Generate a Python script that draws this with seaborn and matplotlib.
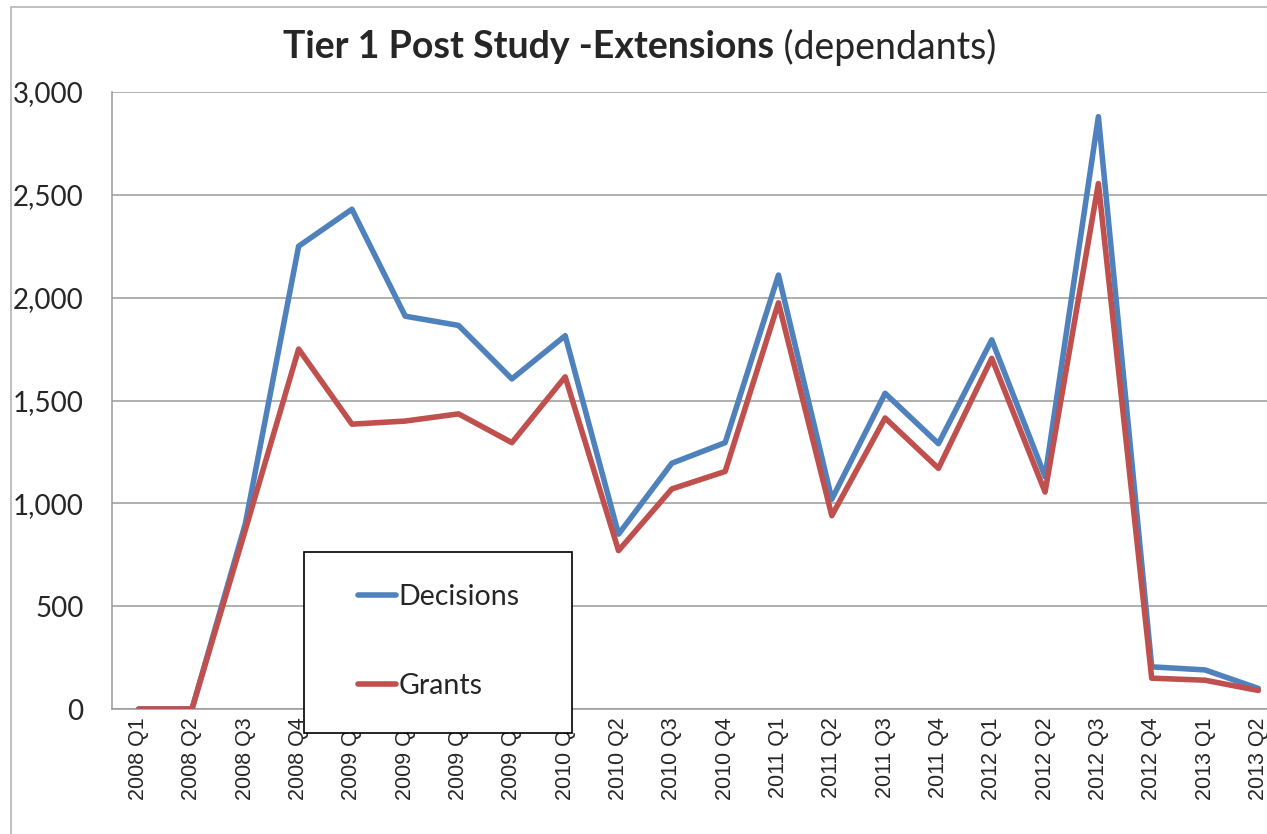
import numpy as np
import pandas as pd
import seaborn as sns
import matplotlib.pyplot as plt
from matplotlib.patches import Rectangle
from matplotlib.ticker import FuncFormatter

quarters = ['2008 Q1', '2008 Q2', '2008 Q3', '2008 Q4',
            '2009 Q1', '2009 Q2', '2009 Q3', '2009 Q4',
            '2010 Q1', '2010 Q2', '2010 Q3', '2010 Q4',
            '2011 Q1', '2011 Q2', '2011 Q3', '2011 Q4',
            '2012 Q1', '2012 Q2', '2012 Q3', '2012 Q4',
            '2013 Q1', '2013 Q2']
decisions = [0, 0, 900, 2250, 2430, 1910, 1865, 1605, 1815, 850, 1195,
             1295, 2110, 1020, 1535, 1290, 1795, 1130, 2880, 205, 190, 100]
grants = [0, 0, 870, 1750, 1385, 1400, 1435, 1295, 1615, 770, 1070,
          1155, 1975, 940, 1415, 1170, 1705, 1055, 2555, 150, 140, 90]

df = pd.DataFrame({'pos': np.arange(len(quarters)),
                   'Decisions': decisions, 'Grants': grants})
long = df.melt(id_vars='pos', var_name='serie', value_name='valor')

sns.set_style('white')
plt.rcParams['font.family'] = ['Lato', 'DejaVu Sans']

W, H = 1267, 834
fig = plt.figure(figsize=(W / 100, H / 100), dpi=100)
ax = fig.add_axes([112 / W, 1 - 709 / H, (1285 - 112) / W, (709 - 92) / H])

colores = {'Decisions': '#4F81BD', 'Grants': '#C0504D'}
sns.lineplot(data=long, x='pos', y='valor', hue='serie', palette=colores,
             linewidth=4.0, ax=ax, legend=False, zorder=3)

ax.set_xlim(-0.5, len(quarters) - 0.5)
ax.set_ylim(0, 3000)
ax.set_yticks(np.arange(0, 3001, 500))
ax.yaxis.set_major_formatter(FuncFormatter(lambda v, p: f'{int(v):,}'))
ax.yaxis.grid(True, color='#9a9a9a', linewidth=1.1)
ax.set_axisbelow(True)

ax.set_xticks(np.arange(len(quarters)))
ax.set_xticklabels(quarters, rotation=90, fontsize=15.5,
                   family=['Liberation Sans', 'DejaVu Sans'])
ax.set_xticks(np.arange(len(quarters) + 1) - 0.5, minor=True)
ax.tick_params(axis='x', which='major', length=0, pad=6)
ax.tick_params(axis='x', which='minor', length=6, width=1.1, color='#9a9a9a', direction='out')
ax.tick_params(axis='y', length=6.5, width=1.1, color='#9a9a9a', labelsize=20, pad=14)
ax.set_xlabel('')
ax.set_ylabel('')

for s in ['top', 'right']:
    ax.spines[s].set_visible(False)
for s in ['left', 'bottom']:
    ax.spines[s].set_color('#9a9a9a')
    ax.spines[s].set_linewidth(1.1)

# marco exterior del grafico
fig.patches.append(Rectangle((11 / W, -0.05), 1.2, 1 - 7 / H + 0.05,
                             transform=fig.transFigure, fill=False,
                             edgecolor='#b5b5b5', linewidth=1.2, zorder=0))

# caja de la leyenda (tapa parte de las etiquetas, como en el original)
ax.add_patch(Rectangle((304 / W, 1 - 733 / H), 268 / W, 181 / H,
                       transform=fig.transFigure, facecolor='white',
                       edgecolor='black', linewidth=1.2, clip_on=False, zorder=4))
handles = [plt.Line2D([], [], color=colores[k], linewidth=4.0, solid_capstyle='round')
           for k in ['Decisions', 'Grants']]
leg = ax.legend(handles, ['Decisions', 'Grants'], loc='upper left',
                bbox_to_anchor=(358 / W, 1 - 584 / H), bbox_transform=fig.transFigure,
                frameon=False, fontsize=20.5, borderpad=0, borderaxespad=0,
                handlelength=1.35, handletextpad=0.08, labelspacing=2.2)
leg.set_zorder(5)

t1 = fig.text(283 / W, 1 - 47 / H, 'Tier 1 Post Study -Extensions', fontsize=27,
              fontweight='bold', va='center', ha='left')
ax.annotate(' (dependants)', xy=(1, 0.5), xycoords=t1, fontsize=27,
            va='center', ha='left', annotation_clip=False)

fig.savefig('out.png', dpi=100)
